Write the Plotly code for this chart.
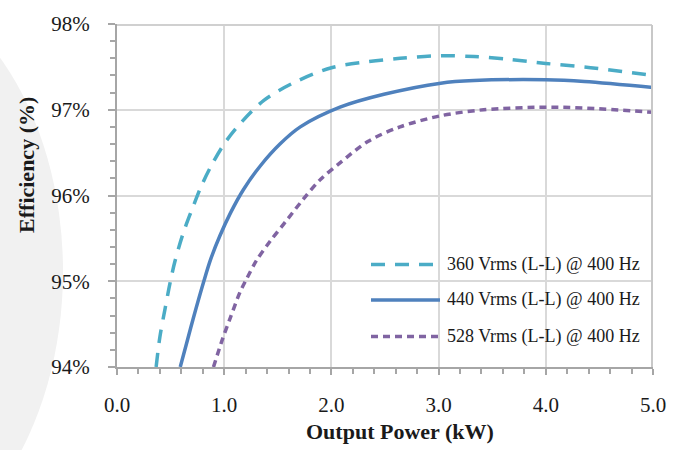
import plotly.graph_objects as go

# ---- data ----
series_names = ["360 Vrms (L-L) @ 400 Hz", "440 Vrms (L-L) @ 400 Hz", "528 Vrms (L-L) @ 400 Hz"]

x360 = [0.365, 0.40, 0.45, 0.495, 0.54, 0.62, 0.71, 0.79, 0.885, 1.01, 1.15, 1.37, 1.64, 2.0, 2.34, 2.64, 3.02, 3.33, 3.64, 4.0, 4.36, 5.0]
y360 = [94.0, 94.35, 94.69, 94.98, 95.23, 95.57, 95.87, 96.12, 96.36, 96.62, 96.84, 97.11, 97.31, 97.49, 97.56, 97.60, 97.63, 97.62, 97.59, 97.54, 97.50, 97.40]

x440 = [0.59, 0.65, 0.71, 0.81, 0.875, 0.96, 1.06, 1.18, 1.34, 1.52, 1.71, 2.08, 2.49, 3.02, 3.33, 4.0, 4.36, 5.0]
y440 = [94.0, 94.28, 94.56, 95.0, 95.26, 95.53, 95.80, 96.07, 96.35, 96.60, 96.80, 97.03, 97.18, 97.31, 97.34, 97.35, 97.33, 97.26]

x528 = [0.90, 0.98, 1.056, 1.15, 1.21, 1.30, 1.43, 1.57, 1.74, 1.90, 2.08, 2.34, 2.64, 3.02, 3.42, 4.0, 4.36, 5.0]
y528 = [94.0, 94.31, 94.57, 94.88, 95.03, 95.24, 95.47, 95.69, 95.96, 96.19, 96.38, 96.63, 96.80, 96.93, 97.0, 97.03, 97.02, 96.97]

x_title = "Output Power (kW)"
y_title = "Efficiency (%)"

# ---- styles ----
colors = ["#4BACC6", "#4F81BD", "#8064A2"]
dashes = ["14px,10px", "solid", "7px,5px"]
FONT = "'Liberation Serif', 'Times New Roman', 'DejaVu Serif', serif"

# plot area in pixels
W, H = 684, 450
L, R, T, B = 117, 31, 19, 83
PW, PH = W - L - R, H - T - B


def px_to_paper(px, py):
    return (px - L) / PW, (H - B - py) / PH


fig = go.Figure()
for xs, ys, name, c, d in zip([x360, x440, x528], [y360, y440, y528], series_names, colors, dashes):
    fig.add_trace(go.Scatter(x=xs, y=ys, mode="lines", name=name,
                             line=dict(color=c, width=3.5, dash=d, shape="spline", smoothing=0.9),
                             showlegend=False))

shapes = []
annotations = []

# faint background arc on the left
ex0, ey0 = px_to_paper(-345, -30)
ex1, ey1 = px_to_paper(63, 570)
shapes.append(dict(type="circle", xref="paper", yref="paper", x0=ex0, x1=ex1, y0=ey1, y1=ey0,
                   fillcolor="#f1f1f1", line=dict(width=0), layer="below"))

# top and right frame (gridline-coloured), drawn slightly inside the plot edge
fx_right, fy_top = px_to_paper(L + PW - 1, T + 1)
shapes.append(dict(type="line", xref="paper", yref="paper", x0=0, x1=fx_right, y0=fy_top, y1=fy_top,
                   line=dict(color="#d0d0d0", width=2), layer="above"))
shapes.append(dict(type="line", xref="paper", yref="paper", x0=fx_right, x1=fx_right, y0=0, y1=fy_top,
                   line=dict(color="#c8c8c8", width=2), layer="above"))

# custom legend
rows_y = [263, 299, 336]
for name, c, d, ry in zip(series_names, colors, dashes, rows_y):
    lx0, ly = px_to_paper(371, ry)
    lx1, _ = px_to_paper(440, ry)
    shapes.append(dict(type="line", xref="paper", yref="paper", x0=lx0, x1=lx1, y0=ly, y1=ly,
                       line=dict(color=c, width=3.5, dash=d)))
    tx, _ = px_to_paper(445, ry)
    annotations.append(dict(text=name, xref="paper", yref="paper", x=tx, y=ly, xanchor="left",
                            yanchor="middle", showarrow=False,
                            font=dict(family=FONT, size=18, color="#1a1a1a")))

# axis titles
axx, axy = px_to_paper(400, 432)
annotations.append(dict(text="<b>%s</b>" % x_title, xref="paper", yref="paper", x=axx, y=axy,
                        xanchor="center", yanchor="middle", showarrow=False,
                        font=dict(family=FONT, size=22, color="#1a1a1a")))
ayx, ayy = px_to_paper(27, 162)
annotations.append(dict(text="<b>%s</b>" % y_title, xref="paper", yref="paper", x=ayx, y=ayy,
                        xanchor="center", yanchor="middle", showarrow=False, textangle=-90,
                        font=dict(family=FONT, size=22, color="#1a1a1a")))

fig.update_layout(
    width=W, height=H,
    margin=dict(l=L, r=R, t=T, b=B),
    paper_bgcolor="white", plot_bgcolor="rgba(0,0,0,0)",
    shapes=shapes, annotations=annotations,
    font=dict(family=FONT, size=21, color="#1a1a1a"),
)
fig.update_xaxes(range=[0, 5], dtick=1, tick0=0, tickformat=".1f",
                 showgrid=True, gridcolor="#d9d9d9", gridwidth=1.5,
                 showline=True, linecolor="#a6a6a6", linewidth=2,
                 ticks="outside", ticklen=6, tickwidth=1.5, tickcolor="#a6a6a6",
                 ticklabelstandoff=12, zeroline=False,
                 minor=dict(dtick=0.2, ticks="outside", ticklen=5, tickwidth=1.5, tickcolor="#a6a6a6", showgrid=False),
                 tickfont=dict(family=FONT, size=21, color="#1a1a1a"))
fig.update_yaxes(range=[94, 98], dtick=1, tick0=94, tickformat=".0f", ticksuffix="%",
                 showgrid=True, gridcolor="#d9d9d9", gridwidth=1.5,
                 showline=True, linecolor="#a6a6a6", linewidth=2,
                 ticks="outside", ticklen=7, tickwidth=1.5, tickcolor="#a6a6a6",
                 ticklabelstandoff=14, zeroline=False,
                 minor=dict(dtick=0.2, ticks="outside", ticklen=5, tickwidth=1.5, tickcolor="#a6a6a6", showgrid=False),
                 tickfont=dict(family=FONT, size=21, color="#1a1a1a"))

fig.write_html("out.html")
